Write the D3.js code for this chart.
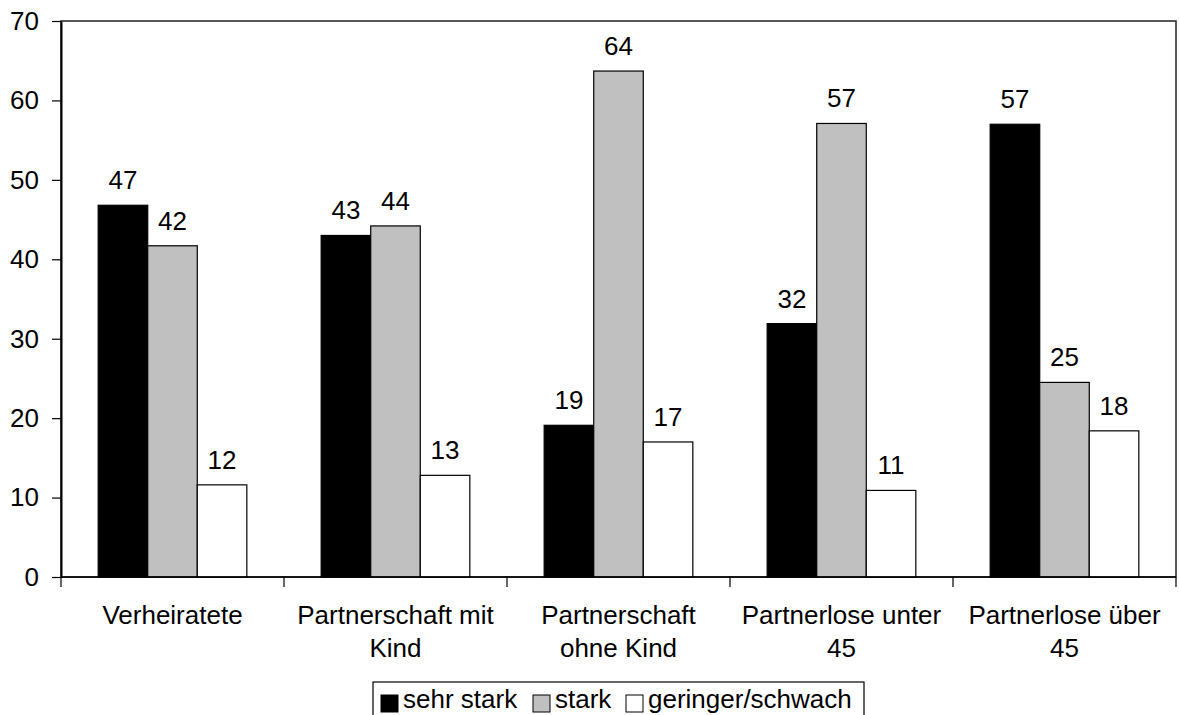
<!DOCTYPE html>
<html>
<head>
<meta charset="utf-8">
<script src="https://cdn.jsdelivr.net/npm/d3@7"></script>
<style>
  body { margin: 0; background: #fff; }
  text { font-family: Arial, "Liberation Sans", sans-serif; fill: #000; }
</style>
</head>
<body>
<div class="chart"></div>
<script>
var svgWidth = 1180;
var svgHeight = 715;

var margin = { top: 21, right: 4, bottom: 138, left: 61 };
var width = svgWidth - margin.left - margin.right;
var height = svgHeight - margin.top - margin.bottom;
var fontSize = "26px";

// data
var categories = ["Verheiratete", "Partnerschaft mit\nKind", "Partnerschaft\nohne Kind",
  "Partnerlose unter\n45", "Partnerlose über\n45"];
var seriesNames = ["sehr stark", "stark", "geringer/schwach"];
var sehrStark = [46.8, 43.0, 19.1, 31.9, 57.0];
var stark = [41.7, 44.2, 63.7, 57.1, 24.5];
var geringer = [11.6, 12.8, 17.0, 10.9, 18.4];
var yTicks = [0, 10, 20, 30, 40, 50, 60, 70];

var seriesValues = [sehrStark, stark, geringer];
var colors = ["#000000", "#c0c0c0", "#ffffff"];

var svg = d3.select(".chart")
  .append("svg")
  .attr("width", svgWidth)
  .attr("height", svgHeight);

var chartGroup = svg.append("g")
  .attr("transform", `translate(${margin.left}, ${margin.top})`);

var x0 = d3.scaleBand()
  .domain(d3.range(categories.length))
  .range([0, width])
  .paddingInner(0)
  .paddingOuter(0);

// excel style gap width 150%
var x1 = d3.scaleBand()
  .domain(d3.range(seriesNames.length))
  .range([0, x0.bandwidth()])
  .paddingInner(0)
  .paddingOuter(0.75);

var y = d3.scaleLinear()
  .domain([0, 70])
  .range([height, 0]);

// plot frame
chartGroup.append("rect")
  .attr("x", 0)
  .attr("y", 0)
  .attr("width", width)
  .attr("height", height)
  .attr("fill", "none")
  .attr("stroke", "#222")
  .attr("stroke-width", 1.5);

// bars
var rows = [];
categories.forEach(function (c, i) {
  seriesValues.forEach(function (vals, s) {
    rows.push({ cat: i, s: s, value: vals[i] });
  });
});

chartGroup.selectAll("rect.bar")
  .data(rows)
  .enter()
  .append("rect")
  .attr("class", "bar")
  .attr("x", d => x0(d.cat) + x1(d.s))
  .attr("y", d => y(d.value))
  .attr("width", x1.bandwidth())
  .attr("height", d => height - y(d.value))
  .attr("fill", d => colors[d.s])
  .attr("stroke", "#000")
  .attr("stroke-width", 1.2);

// value labels
chartGroup.selectAll("text.val")
  .data(rows)
  .enter()
  .append("text")
  .attr("class", "val")
  .attr("x", d => x0(d.cat) + x1(d.s) + x1.bandwidth() / 2)
  .attr("y", d => y(d.value) - 16)
  .attr("text-anchor", "middle")
  .style("font-size", fontSize)
  .text(d => Math.round(d.value));

// y axis
var leftAxis = d3.axisLeft(y)
  .tickValues(yTicks)
  .tickSize(9)
  .tickPadding(13)
  .tickSizeOuter(0);

var yAxis = chartGroup.append("g").call(leftAxis);
yAxis.select(".domain").attr("stroke", "#000").attr("stroke-width", 2);
yAxis.selectAll(".tick line").attr("stroke", "#000").attr("stroke-width", 1.2);
yAxis.selectAll(".tick text")
  .style("font-size", fontSize)
  .style("font-family", "Arial, 'Liberation Sans', sans-serif")
  .attr("fill", "#000");

// x axis: ticks between categories
chartGroup.append("line")
  .attr("x1", 0).attr("x2", width)
  .attr("y1", height).attr("y2", height)
  .attr("stroke", "#000").attr("stroke-width", 1.5);

chartGroup.selectAll("line.xtick")
  .data(d3.range(categories.length + 1))
  .enter()
  .append("line")
  .attr("class", "xtick")
  .attr("x1", d => d * x0.step())
  .attr("x2", d => d * x0.step())
  .attr("y1", height)
  .attr("y2", height + 10)
  .attr("stroke", "#000")
  .attr("stroke-width", 1.2);

var catLabels = chartGroup.selectAll("text.cat")
  .data(categories)
  .enter()
  .append("text")
  .attr("class", "cat")
  .attr("text-anchor", "middle")
  .style("font-size", fontSize)
  .attr("transform", (d, i) => `translate(${x0(i) + x0.bandwidth() / 2}, ${height + 47})`);

catLabels.selectAll("tspan")
  .data(d => d.split("\n"))
  .enter()
  .append("tspan")
  .attr("x", 0)
  .attr("y", (d, i) => i * 33)
  .text(d => d);

// legend
var legend = svg.append("g")
  .attr("transform", "translate(373, 682)");

legend.append("rect")
  .attr("x", 0)
  .attr("y", 0)
  .attr("width", 491)
  .attr("height", 50)
  .attr("fill", "#fff")
  .attr("stroke", "#000")
  .attr("stroke-width", 1.2);

var legendX = [8, 160, 253];
var items = legend.selectAll("g.item")
  .data(seriesNames)
  .enter()
  .append("g")
  .attr("class", "item")
  .attr("transform", (d, i) => `translate(${legendX[i]}, 13)`);

items.append("rect")
  .attr("width", 17)
  .attr("height", 17)
  .attr("fill", (d, i) => colors[i])
  .attr("stroke", "#000")
  .attr("stroke-width", 1);

items.append("text")
  .attr("x", 22)
  .attr("y", 13)
  .style("font-size", fontSize)
  .text(d => d);
</script>
</body>
</html>
